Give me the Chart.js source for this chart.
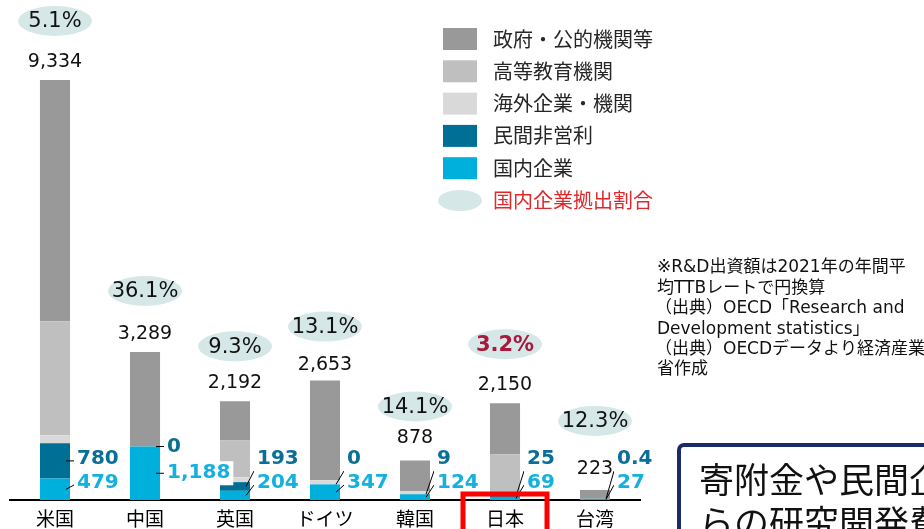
<!DOCTYPE html>
<html lang="ja">
<head>
<meta charset="UTF-8">
<title>大学の研究開発費 負担源別</title>
<script src="https://cdn.jsdelivr.net/npm/chart.js@4"></script>
<style>
  body { margin: 0; background: #fff; }
  canvas { display: block; }
</style>
</head>
<body>
<canvas id="chart" width="924" height="529"></canvas>
<script>
// 国・地域別の研究開発費（億円）と負担源の内訳
const countries  = ['米国', '中国', '英国', 'ドイツ', '韓国', '日本', '台湾'];
const domestic   = [479, 1188, 204, 347, 124, 69, 27];     // 国内企業
const nonprofit  = [780, 0, 193, 0, 9, 25, 0.4];           // 民間非営利
const foreign    = [178, 0, 106, 90, 65, 0, 0];            // 海外企業・機関
const higherEd   = [2533, 0, 822, 0, 0, 923, 0];           // 高等教育機関
const government = [5364, 2101, 867, 2216, 680, 1133, 195.6]; // 政府・公的機関等
const totals     = [9334, 3289, 2192, 2653, 878, 2150, 223];
const shares     = ['5.1%', '36.1%', '9.3%', '13.1%', '14.1%', '3.2%', '12.3%'];

const numFont = "'DejaVu Sans', 'Noto Sans CJK JP', sans-serif";
const jpFont = "'Noto Sans CJK JP', 'Noto Sans', sans-serif";

// 合計ラベル・割合の楕円を棒の上にどれだけ離すか
const totalLift = [18, 18, 18, 16, 22, 18, 21];
const shareLift = [41, 43, 37, 38, 32, 41, 48];

const noteLines = [
  '※R&D出資額は2021年の年間平',
  '均TTBレートで円換算',
  '（出典）OECD「Research and',
  'Development statistics」',
  '（出典）OECDデータより経済産業',
  '省作成'
];

const annotations = {
  id: 'annotations',
  afterDatasetsDraw(chart) {
    const ctx = chart.ctx;
    const xs = chart.scales.x, ys = chart.scales.y;
    const base = ys.getPixelForValue(0);
    ctx.save();
    ctx.textBaseline = 'middle';

    countries.forEach((c, i) => {
      const cx = xs.getPixelForValue(i);
      const top = ys.getPixelForValue(totals[i]);

      // 合計
      const ty = top - totalLift[i];
      ctx.textAlign = 'center';
      ctx.font = '19px ' + numFont;
      ctx.fillStyle = '#111';
      ctx.fillText(totals[i].toLocaleString('en-US'), cx, ty);

      // 国内企業拠出割合
      const ey = ty - shareLift[i];
      ctx.fillStyle = '#d6e7e7';
      ctx.beginPath();
      ctx.ellipse(cx, ey, 37, 15, 0, 0, Math.PI * 2);
      ctx.fill();
      ctx.font = (i === 5 ? 'bold ' : '') + '21px ' + numFont;
      ctx.fillStyle = i === 5 ? '#a8193d' : '#111';
      ctx.fillText(shares[i], cx, ey + 1);

      // 民間非営利・国内企業の値と引き出し線
      const bar = chart.getDatasetMeta(0).data[i];
      const right = bar.x + bar.width / 2;
      const cyanTop = ys.getPixelForValue(domestic[i]);
      const tealTop = ys.getPixelForValue(domestic[i] + nonprofit[i]);
      const cyanMid = (cyanTop + base) / 2;
      const tealMid = (tealTop + cyanTop) / 2;
      const upperY = Math.min(base - 41, cyanTop);
      const lowerY = Math.min(base - 17, cyanMid);

      ctx.strokeStyle = '#000';
      ctx.lineWidth = 1;
      ctx.beginPath();
      ctx.moveTo(right - 4, tealMid);
      ctx.lineTo(right + 4, Math.min(tealMid, upperY + 12));
      ctx.moveTo(right - 4, cyanMid);
      ctx.lineTo(right + 4, Math.min(cyanMid, lowerY + 2));
      ctx.stroke();

      ctx.textAlign = 'left';
      ctx.font = 'bold 20px ' + numFont;
      const lowText = domestic[i].toLocaleString('en-US');
      const w = ctx.measureText(lowText).width;
      ctx.fillStyle = '#fff';
      ctx.fillRect(right + 4, lowerY - 12, w + 6, 24);
      ctx.fillStyle = '#0a6f96';
      ctx.fillText(nonprofit[i].toLocaleString('en-US'), right + 7, upperY);
      ctx.fillStyle = '#14b0de';
      ctx.fillText(lowText, right + 7, lowerY);
    });

    // 日本の強調枠
    const jx = xs.getPixelForValue(5);
    ctx.strokeStyle = '#ff0000';
    ctx.lineWidth = 5;
    ctx.strokeRect(jx - 42, base - 6, 84, 60);
    ctx.restore();
  },
  afterDraw(chart) {
    const ctx = chart.ctx;
    ctx.save();
    ctx.textBaseline = 'middle';
    ctx.textAlign = 'left';

    // 凡例
    const sets = chart.data.datasets.slice().reverse();
    sets.forEach((ds, k) => {
      const y = 39 + k * 32.3;
      ctx.fillStyle = ds.backgroundColor;
      ctx.fillRect(443, y - 11, 34, 22);
      ctx.font = '20px ' + jpFont;
      ctx.fillStyle = '#262626';
      ctx.fillText(ds.label, 493, y);
    });
    const ly = 39 + sets.length * 32.3;
    ctx.fillStyle = '#d6e7e7';
    ctx.beginPath();
    ctx.ellipse(460, ly, 22, 10.5, 0, 0, Math.PI * 2);
    ctx.fill();
    ctx.fillStyle = '#e0282a';
    ctx.fillText('国内企業拠出割合', 493, ly);

    // 注記
    ctx.font = '17px ' + numFont;
    ctx.fillStyle = '#111';
    noteLines.forEach((t, k) => {
      const indent = t.startsWith('（') ? -2 : 0;
      ctx.fillText(t, 657 + indent, 268 + k * 20.4);
    });

    // 右下の囲み
    ctx.strokeStyle = '#1b2a6b';
    ctx.lineWidth = 4;
    ctx.beginPath();
    ctx.roundRect(679, 445, 300, 120, 5);
    ctx.stroke();
    ctx.font = '35px ' + jpFont;
    ctx.fillStyle = '#111';
    ctx.fillText('寄附金や民間企業か', 699, 480);
    ctx.fillText('らの研究開発費', 699, 523);
    ctx.restore();
  }
};

new Chart(document.getElementById('chart'), {
  type: 'bar',
  data: {
    labels: countries,
    datasets: [
      { label: '国内企業', data: domestic, backgroundColor: '#00b0dc' },
      { label: '民間非営利', data: nonprofit, backgroundColor: '#006f95' },
      { label: '海外企業・機関', data: foreign, backgroundColor: '#d9d9d9' },
      { label: '高等教育機関', data: higherEd, backgroundColor: '#bfbfbf' },
      { label: '政府・公的機関等', data: government, backgroundColor: '#999999' }
    ]
  },
  options: {
    responsive: false,
    devicePixelRatio: 1,
    animation: false,
    layout: { padding: { left: 10, right: 284, top: 80, bottom: 0 } },
    datasets: { bar: { categoryPercentage: 1, barPercentage: 0.334 } },
    plugins: { legend: { display: false }, tooltip: { enabled: false } },
    scales: {
      x: {
        stacked: true,
        grid: { display: false, drawTicks: false },
        border: { display: true, color: '#000', width: 2 },
        ticks: { color: '#000', padding: 7, font: { family: jpFont, size: 19 } },
        afterFit: s => { s.height = 29; }
      },
      y: {
        stacked: true,
        display: false,
        min: 0,
        max: Math.max(...totals)
      }
    }
  },
  plugins: [annotations]
});
</script>
</body>
</html>
